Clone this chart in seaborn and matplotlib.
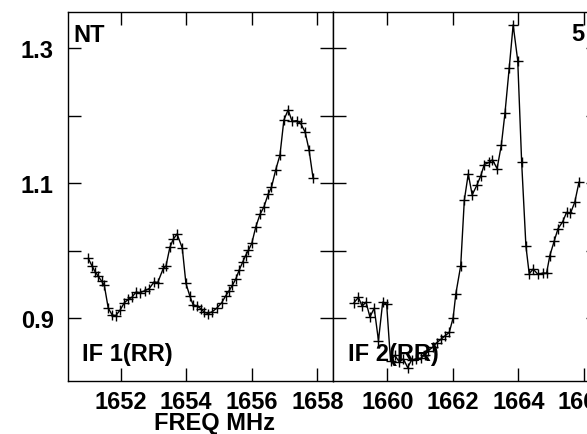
import matplotlib
matplotlib.use("Agg")
import matplotlib.pyplot as plt
import seaborn as sns
import pandas as pd

# ---- data ----
freq_if1 = [1651.01, 1651.12, 1651.22, 1651.32, 1651.42, 1651.50, 1651.62, 1651.74, 1651.85, 1651.98,
            1652.11, 1652.23, 1652.34, 1652.47, 1652.59, 1652.74, 1652.87, 1653.02, 1653.13, 1653.30,
            1653.38, 1653.50, 1653.60, 1653.72, 1653.88, 1653.99, 1654.11, 1654.21, 1654.34, 1654.45,
            1654.55, 1654.67, 1654.80, 1654.93, 1655.08, 1655.20, 1655.31, 1655.41, 1655.51, 1655.62,
            1655.72, 1655.81, 1655.90, 1656.00, 1656.12, 1656.25, 1656.37, 1656.50, 1656.60, 1656.73,
            1656.86, 1656.98, 1657.11, 1657.23, 1657.37, 1657.49, 1657.63, 1657.75, 1657.87]
amp_if1 = [0.989, 0.978, 0.969, 0.962, 0.955, 0.949, 0.915, 0.905, 0.904, 0.912,
           0.923, 0.928, 0.931, 0.939, 0.938, 0.941, 0.944, 0.954, 0.953, 0.974,
           0.977, 1.005, 1.017, 1.025, 1.004, 0.952, 0.933, 0.920, 0.918, 0.914,
           0.909, 0.907, 0.910, 0.915, 0.923, 0.933, 0.941, 0.949, 0.958, 0.972,
           0.983, 0.993, 1.001, 1.011, 1.035, 1.054, 1.065, 1.084, 1.094, 1.120,
           1.142, 1.194, 1.209, 1.192, 1.193, 1.189, 1.176, 1.149, 1.108]

freq_if2 = [1658.98, 1659.12, 1659.23, 1659.35, 1659.47, 1659.60, 1659.73, 1659.86, 1659.98, 1660.10,
            1660.23, 1660.37, 1660.49, 1660.62, 1660.74, 1660.88, 1661.03, 1661.15, 1661.25, 1661.38,
            1661.51, 1661.64, 1661.76, 1661.89, 1662.01, 1662.09, 1662.24, 1662.35, 1662.47, 1662.59,
            1662.73, 1662.85, 1662.96, 1663.10, 1663.21, 1663.35, 1663.48, 1663.59, 1663.72, 1663.84,
            1663.98, 1664.10, 1664.23, 1664.33, 1664.45, 1664.60, 1664.74, 1664.86, 1664.96, 1665.09,
            1665.21, 1665.35, 1665.47, 1665.59, 1665.72, 1665.85]
amp_if2 = [0.923, 0.931, 0.918, 0.924, 0.902, 0.915, 0.867, 0.924, 0.921, 0.836,
           0.845, 0.835, 0.840, 0.827, 0.838, 0.840, 0.841, 0.846, 0.852, 0.857,
           0.864, 0.869, 0.874, 0.879, 0.901, 0.936, 0.978, 1.075, 1.114, 1.083,
           1.097, 1.111, 1.128, 1.131, 1.135, 1.122, 1.157, 1.204, 1.271, 1.335,
           1.282, 1.131, 1.007, 0.966, 0.973, 0.965, 0.967, 0.967, 0.993, 1.014,
           1.033, 1.043, 1.057, 1.056, 1.072, 1.102]

xticks_if1 = [1652, 1654, 1656, 1658]
xticks_if2 = [1660, 1662, 1664, 1666]
yticks = [0.9, 1.0, 1.1, 1.2, 1.3]
ytick_labels = ["0.9", "", "1.1", "", "1.3"]

sns.set_theme(style="white")
plt.rcParams['font.family'] = ['Liberation Sans', 'DejaVu Sans']
plt.rcParams['font.weight'] = 'bold'
plt.rcParams['text.color'] = 'black'

W, H = 587, 435
fig = plt.figure(figsize=(W / 100, H / 100), dpi=100)

def px_ax(x0, x1, ytop, ybot):
    return [x0 / W, (H - ybot) / H, (x1 - x0) / W, (ybot - ytop) / H]

ax1 = fig.add_axes(px_ax(67.5, 333.3, 13, 381.7))
ax2 = fig.add_axes(px_ax(333.3, 599.1, 13, 381.7))

df1 = pd.DataFrame({"freq": freq_if1, "amp": amp_if1})
df2 = pd.DataFrame({"freq": freq_if2, "amp": amp_if2})

fs = 17

for ax, df, xt, xl in [(ax1, df1, xticks_if1, (1650.377, 1658.488)),
                       (ax2, df2, xticks_if2, (1658.352, 1666.463))]:
    sns.lineplot(data=df, x="freq", y="amp", ax=ax, color="black", linewidth=1.0,
                 marker="+", markersize=7, markeredgewidth=1.0, markeredgecolor="black",
                 estimator=None, sort=False)
    ax.set_xlim(*xl)
    ax.set_ylim(0.8075, 1.3541)
    ax.set_xticks(xt)
    ax.set_yticks(yticks)
    ax.set_xlabel("")
    ax.set_ylabel("")
    ax.tick_params(direction="in", length=9.5, width=1.0, color="black",
                   top=True, bottom=True, left=True, right=True,
                   labelsize=fs, pad=7, labelcolor="black")
    for s in ax.spines.values():
        s.set_color("black")
        s.set_linewidth(1.0)
        s.set_visible(True)
    ax.grid(False)
    for lab in ax.get_xticklabels() + ax.get_yticklabels():
        lab.set_fontweight("bold")

ax1.set_yticklabels(ytick_labels)
ax1.tick_params(axis="y", pad=10)
ax2.set_yticklabels([])

tk = dict(fontsize=fs, fontweight="bold", color="black")
fig.text(73.5 / W, 1 - 24 / H, "NT", ha="left", va="top", **tk)
fig.text(82 / W, 1 - 361 / H, "IF 1(RR)", ha="left", va="baseline", **tk)
fig.text(347.5 / W, 1 - 361.5 / H, "IF 2(RR)", ha="left", va="baseline", **tk)
fig.text(571.5 / W, 1 - 23 / H, "5", ha="left", va="top", **tk)
fig.text(215 / W, 1 - 430.5 / H, "FREQ MHz", ha="center", va="baseline", **tk)

fig.savefig("out.png", dpi=100)
